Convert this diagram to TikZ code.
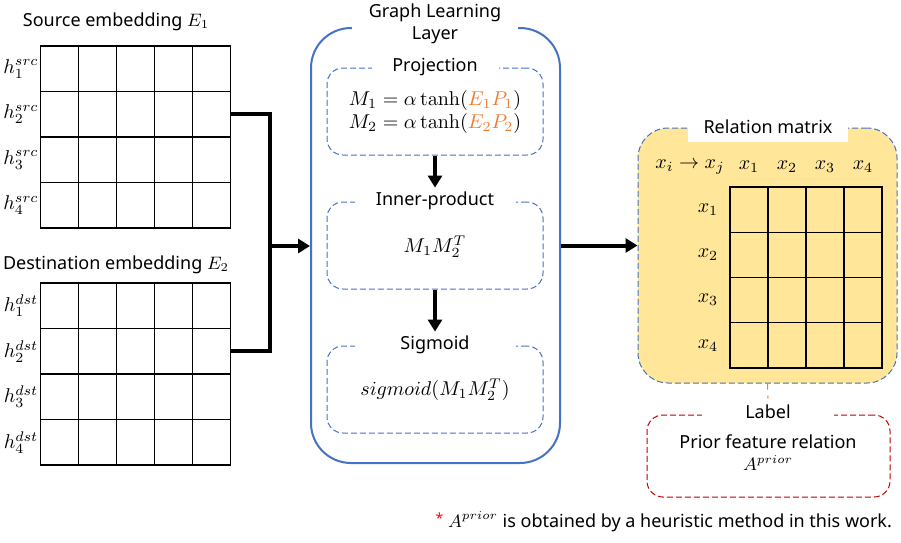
\documentclass[tikz,border=0pt]{standalone}
\usepackage[no-math]{fontspec}
\setmainfont{Noto Sans}
\usepackage{tikz}
\usetikzlibrary{arrows.meta}
\usetikzlibrary{calc}

\definecolor{gllblue}{HTML}{4472C4}
\definecolor{projorange}{HTML}{ED7D31}
\definecolor{relyellow}{HTML}{FFE699}
\definecolor{labelred}{HTML}{C00000}

\begin{document}
\begin{tikzpicture}[x=0.5pt,y=-0.5pt,
    txt/.style={font=\fontsize{9}{11}\selectfont},
    eq/.style={font=\fontsize{10}{11.5}\selectfont,inner sep=1pt},
    cell/.style={draw,line width=0.6pt,minimum width=19pt,minimum height=22.75pt,inner sep=0pt,outer sep=0pt},
    relcell/.style={cell,minimum height=22.6pt},
    stage/.style={draw=gllblue,dashed,dash pattern=on 3pt off 1.5pt,line width=0.5pt,rounded corners=8pt,minimum width=108pt,minimum height=43.5pt},
    caption/.style={txt,fill=white,inner ysep=1pt,minimum height=13pt},
    link/.style={line width=2pt},
    flow/.style={line width=2pt,-{Triangle[length=6pt,width=7pt]}}]
      \useasboundingbox (0,0) rectangle (901,542);

      \node[txt] (srclabel) at (116,22) {Source embedding $E_1$};
      \node[txt] (dstlabel) at (116,265) {Destination embedding $E_2$};
      \foreach \r in {1,...,4} {
        \node[eq] (hsrc\r) at (21,{23.25+45.5*\r}) {$h_{\r}^{src}$};
        \node[eq] (hdst\r) at (21,{260.25+45.5*\r}) {$h_{\r}^{dst}$};
        \foreach \c in {1,...,5} {
          \node[cell] (src\r\c) at ({21.7+38*\c},{23.25+45.5*\r}) {};
          \node[cell] (dst\r\c) at ({21.7+38*\c},{260.25+45.5*\r}) {};
        }
      }

      \node[draw=gllblue,line width=1pt,rounded corners=20pt,minimum width=124.5pt,minimum height=217.5pt] (gll) at (435.5,245.5) {};
      \node[txt,fill=white,align=center,minimum width=83pt,inner ysep=0pt] (glltitle) at (435,24) {Graph Learning\\Layer};

      \node[stage] (proj) at (435,111.5) {};
      \node[caption,minimum width=63.5pt] (projtitle) at (435,67) {Projection};
      \node[eq,align=center] (projeq) at (435,111.5) {$M_1 = \alpha\tanh(\textcolor{projorange}{E_1P_1})$\\$M_2 = \alpha\tanh(\textcolor{projorange}{E_2P_2})$};

      \node[stage] (inner) at (435,245.5) {};
      \node[caption,minimum width=80.5pt] (innertitle) at (435,201) {Inner-product};
      \node[eq] (innereq) at (435,247) {$M_1M_2^T$};

      \node[stage] (sigm) at (435,389.5) {};
      \node[caption,minimum width=80.5pt] (sigmtitle) at (435,345) {Sigmoid};
      \node[eq] (sigmeq) at (435,390) {$sigmoid(M_1M_2^T)$};

      \draw[flow] (proj.south) -- (innertitle.north);
      \draw[flow] (inner.south) -- (sigmtitle.north);

      \coordinate (join) at (270,246);
      \draw[link] (src25.east) -| (join);
      \draw[link] (dst25.east) -| (join);
      \draw[flow] (join) -- (join -| gll.west);

      \node[draw=gllblue,dashed,dash pattern=on 3pt off 1.5pt,fill=relyellow,line width=0.5pt,rounded corners=15pt,minimum width=129.5pt,minimum height=127.5pt] (rel) at (767.5,255.5) {};
      \node[txt,fill=white,minimum width=80pt,minimum height=15pt] (reltitle) at (768,127) {Relation matrix};
      \node[eq] (relhead) at (690,167) {$x_i \rightarrow x_j$};
      \foreach \c in {1,...,4} {
        \node[eq] (col\c) at ({711+38*\c},167) {$x_{\c}$};
      }
      \foreach \r in {1,...,4} {
        \node[eq] (row\r) at (708,{164.4+45.25*\r}) {$x_{\r}$};
        \foreach \c in {1,...,4} {
          \node[relcell] (rel\r\c) at ({711+38*\c},{164.4+45.25*\r}) {};
        }
      }

      \draw[flow] (gll.east) -- (gll.east -| rel.west);

      \node[draw=labelred,dashed,dash pattern=on 3pt off 1.5pt,line width=0.5pt,rounded corners=8pt,minimum width=121.5pt,minimum height=41pt] (prior) at (768.5,456) {};
      \node[caption,minimum width=66pt] (labtitle) at (768,412) {Label};
      \node[txt,align=center] (priortext) at (768,453) {Prior feature relation\\$A^{prior}$};
      \draw[projorange,dashed,line width=0.5pt] (rel.south) -- (labtitle.north);

      \node[txt,anchor=east] (note) at (899,522) {\raisebox{.4ex}{\scriptsize\textcolor{red}{*}} $A^{prior}$ is obtained by a heuristic method in this work.};
    \end{tikzpicture}
\end{document}
